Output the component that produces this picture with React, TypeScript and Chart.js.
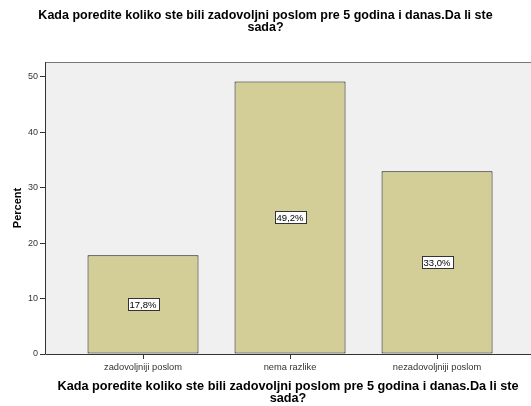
import React, { useEffect, useRef } from "react";
import { Chart, registerables } from "chart.js";

Chart.register(...registerables);

const categories = ["zadovoljniji poslom", "nema razlike", "nezadovoljniji poslom"];
const percents = [17.8, 49.2, 33.0];
const valueLabels = ["17,8%", "49,2%", "33,0%"];
const yTicks = [0, 10, 20, 30, 40, 50];
const titleLines = [
  "Kada poredite koliko ste bili zadovoljni poslom pre 5 godina i danas.Da li ste",
  "sada?",
];
const yAxisTitle = "Percent";

const FONT = "'Liberation Sans', Arial, sans-serif";

const framePlugin = {
  id: "spssFrame",
  beforeDatasetsDraw(chart: any) {
    const { ctx, chartArea } = chart;
    ctx.save();
    ctx.fillStyle = "#f0f0f0";
    ctx.fillRect(chartArea.left, chartArea.top, chartArea.right - chartArea.left, chartArea.bottom - chartArea.top);
    ctx.restore();
  },
  afterDatasetsDraw(chart: any) {
    const { ctx, chartArea } = chart;
    ctx.save();
    ctx.lineWidth = 1;
    ctx.strokeStyle = "#777";
    ctx.beginPath();
    ctx.moveTo(chartArea.left, chartArea.top + 0.5);
    ctx.lineTo(chartArea.right, chartArea.top + 0.5);
    ctx.stroke();
    ctx.strokeStyle = "#333";
    ctx.beginPath();
    ctx.moveTo(chartArea.left + 0.5, chartArea.top);
    ctx.lineTo(chartArea.left + 0.5, chartArea.bottom + 0.5);
    ctx.lineTo(chartArea.right, chartArea.bottom + 0.5);
    ctx.stroke();

    // value labels in boxes
    const meta = chart.getDatasetMeta(0);
    ctx.font = `9.5px ${FONT}`;
    ctx.textAlign = "center";
    ctx.textBaseline = "middle";
    meta.data.forEach((el: any, i: number) => {
      const { x, y, base } = el.getProps(["x", "y", "base"], true);
      const cy = (y + base) / 2;
      const text = valueLabels[i];
      const w = Math.round(ctx.measureText(text).width) + 4;
      const h = 12;
      const bx = Math.round(x - w / 2) + 0.5;
      const by = Math.round(cy - h / 2) + 0.5;
      ctx.fillStyle = "#ffffff";
      ctx.fillRect(bx, by, w, h);
      ctx.strokeStyle = "#333";
      ctx.strokeRect(bx, by, w, h);
      ctx.fillStyle = "#000";
      ctx.fillText(text, x, cy + 1);
    });
    ctx.restore();
  },
};

export default function App() {
  const ref = useRef<HTMLCanvasElement | null>(null);

  useEffect(() => {
    document.body.style.margin = "0";
    const canvas = ref.current;
    if (!canvas) return;
    const chart = new Chart(canvas, {
      type: "bar",
      data: {
        datasets: [
          {
            data: percents.map((v, i) => ({ x: i, y: v })),
            backgroundColor: "#d3ce98",
            borderColor: "#111",
            borderWidth: 1,
            borderSkipped: false,
            barPercentage: 0.755,
            categoryPercentage: 1,
          },
        ],
      },
      plugins: [framePlugin],
      options: {
        responsive: false,
        animation: false,
        devicePixelRatio: 1,
        layout: { padding: 0 },
        plugins: {
          legend: { display: false },
          tooltip: { enabled: false },
          title: {
            display: true,
            text: titleLines,
            color: "#000",
            font: { family: FONT, size: 12.5, weight: "bold", lineHeight: 0.96 },
            padding: { top: 10, bottom: 28 },
          },
        },
        scales: {
          x: {
            type: "linear",
            offset: false,
            min: -0.6667,
            max: 2.639,
            afterBuildTicks: (scale: any) => {
              scale.ticks = categories.map((_, i) => ({ value: i }));
            },
            afterFit: (scale: any) => {
              scale.height = 52;
            },
            ticks: {
              autoSkip: false,
              maxRotation: 0,
              padding: 2.5,
              color: "#333",
              font: { family: FONT, size: 9.3 },
              callback: (v: any) => categories[Math.round(Number(v))] ?? "",
            },
            grid: { offset: false, drawOnChartArea: false, drawTicks: true, tickLength: 5, color: "#333" },
            border: { display: false },
            title: {
              display: true,
              text: titleLines,
              color: "#000",
              font: { family: FONT, size: 12.7, weight: "bold", lineHeight: 0.92 },
              padding: { top: 0, bottom: 2 },
            },
          },
          y: {
            type: "linear",
            min: 0,
            max: 52.7,
            afterBuildTicks: (scale: any) => {
              scale.ticks = yTicks.map((v) => ({ value: v }));
            },
            afterFit: (scale: any) => {
              scale.width = 45;
            },
            ticks: {
              padding: 2,
              color: "#333",
              font: { family: FONT, size: 9 },
            },
            grid: { drawOnChartArea: false, drawTicks: true, tickLength: 5, color: "#333" },
            border: { display: false },
            title: {
              display: true,
              text: yAxisTitle,
              color: "#000",
              font: { family: FONT, size: 11, weight: "bold", lineHeight: 1.0 },
              padding: { top: 12, bottom: 0 },
            },
          },
        },
      },
    } as any);
    return () => chart.destroy();
  }, []);

  return (
    <div style={{ width: 531, height: 406, background: "#fff" }}>
      <canvas ref={ref} width={531} height={406} />
    </div>
  );
}
